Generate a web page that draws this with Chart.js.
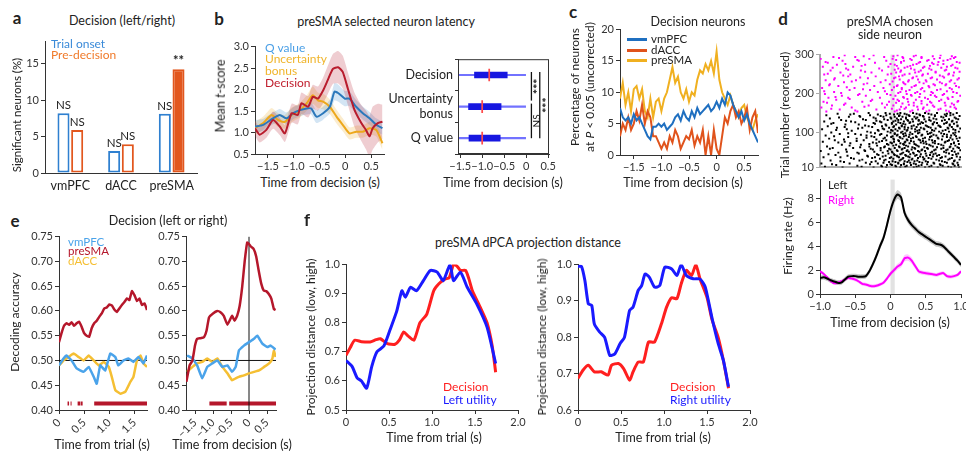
<!DOCTYPE html>
<html>
<head>
<meta charset="utf-8">
<script src="https://cdn.jsdelivr.net/npm/chart.js@4.4.1/dist/chart.umd.min.js"></script>
<style>
html, body { margin: 0; padding: 0; background: #fff; }
#fig { position: relative; width: 966px; height: 456px; overflow: hidden; font-family: Lato, sans-serif; color: #222; }
#fig canvas { position: absolute; }
.t { position: absolute; white-space: nowrap; line-height: 1; }
</style>
</head>
<body>
<div id="fig"></div>
<script>
// ---------- a: decision-selective neurons per region ----------
const regions = ['vmPFC', 'dACC', 'preSMA'];
const trialOnsetPct = [8.2, 3.0, 8.1];
const preDecisionPct = [5.9, 3.95, 14.2];
const trialOnsetSig = ['NS', 'NS', 'NS'];
const preDecisionSig = ['NS', 'NS', '**'];

// ---------- b (left): mean t-score ----------
const bDecT = [-1.75,-1.66,-1.53,-1.40,-1.27,-1.17,-1.04,-0.92,-0.85,-0.72,-0.63,-0.53,-0.43,-0.34,-0.24,-0.14,-0.05,0.05,0.18,0.31,0.40,0.47,0.53,0.63,0.72];
const bDecV = [1.10,0.95,1.06,1.29,1.14,0.98,1.45,1.41,1.68,1.60,1.83,1.79,1.98,2.22,2.48,2.52,2.41,2.02,1.52,1.22,1.06,0.91,1.10,1.22,1.25];
const bDecSem = [0.18,0.18,0.18,0.2,0.2,0.2,0.22,0.22,0.25,0.25,0.28,0.28,0.3,0.33,0.35,0.38,0.38,0.38,0.4,0.42,0.45,0.48,0.5,0.45,0.4];
const bQT = [-1.75,-1.59,-1.40,-1.27,-1.14,-1.01,-0.88,-0.75,-0.66,-0.56,-0.43,-0.30,-0.21,-0.14,-0.01,0.08,0.21,0.34,0.47,0.60,0.72];
const bQV = [1.14,1.18,1.33,1.41,1.33,1.45,1.52,1.56,1.56,1.37,1.45,1.60,1.95,1.92,1.79,1.79,1.60,1.45,1.33,1.18,1.10];
const bQSem = [0.15,0.14,0.14,0.14,0.14,0.14,0.14,0.14,0.14,0.15,0.15,0.16,0.2,0.2,0.18,0.17,0.16,0.15,0.15,0.15,0.15];
const bUT = [-1.75,-1.59,-1.43,-1.30,-1.17,-1.04,-0.88,-0.75,-0.63,-0.53,-0.43,-0.30,-0.17,-0.05,0.08,0.21,0.34,0.47,0.60,0.72];
const bUV = [1.10,1.22,1.41,1.29,1.25,1.41,1.52,1.68,1.87,1.75,1.72,1.60,1.37,1.18,0.98,1.02,1.02,1.10,1.06,0.75];
const bUSem = [0.15,0.15,0.16,0.16,0.16,0.17,0.17,0.18,0.2,0.18,0.18,0.17,0.16,0.15,0.14,0.14,0.14,0.15,0.15,0.15];

// ---------- b (right): latency box plots ----------
const latencyLabels = ['Decision', ['Uncertainty', 'bonus'], 'Q value'];
const latencyQ1 = [-1.175, -1.31, -1.30];
const latencyQ3 = [-0.43, -0.57, -0.59];
const latencyMedian = [-0.84, -1.0, -1.0];
const whiskerLo = [-1.55, -1.55, -1.55];
const whiskerHi = [0, 0, 0];
const latencyBrackets = [
  { from: 0, to: 1, at: 0.12, label: '***' },
  { from: 1, to: 2, at: 0.12, label: 'NS' },
  { from: 0, to: 2, at: 0.31, label: '***' }
];

// ---------- c: % significant decision neurons ----------
const cTime = [-1.75,-1.7,-1.65,-1.6,-1.55,-1.5,-1.45,-1.4,-1.35,-1.3,-1.25,-1.2,-1.15,-1.1,-1.05,-1.0,-0.95,-0.9,-0.85,-0.8,-0.75,-0.7,-0.65,-0.6,-0.55,-0.5,-0.45,-0.4,-0.35,-0.3,-0.25,-0.2,-0.15,-0.1,-0.05,0,0.05,0.1,0.15,0.2,0.25,0.3,0.35,0.4,0.45,0.5,0.55,0.6,0.65,0.7,0.75];
const cPreSMA = [9,11.5,8,10,7,10.5,11,9,10.5,7,6,9,6,8.5,9,7,9,10,12,14,11.5,12.5,10,9,10.5,8.5,10,9.5,12,13.5,13,14.5,13.5,15,13,16.5,12,10,9,8,9.5,8,7,6,7.5,8,6,5,4,5.5,6.5];
const cVmPFC = [7.5,6,5.5,6,5,6.5,5.5,6,5,4,3,2.5,4.5,4.5,5,4.5,5,4,4.5,5,6,6.5,5.5,7,6,5.5,7,6,7.5,6.5,7,7.5,8,7,7.5,8.5,7.5,9,8,10,9.5,8,7,6,7,5.5,6.5,5,4,3,2];
const cDACC = [3,5,4,6,4,5,7,5.5,8,5,7,6,3,3,2,1,2,1,3,2,4,3,1,2,3,2.5,4,1.5,3,2,4,0,3,0,4,1,0,3,6,5,7,8,6,7,5,6,7.5,4,6,7,3.5];

// ---------- d: raster (trial, spike times) and firing rate ----------
const leftRaster = [
  [10,[-0.68,-0.24,-0.06,0.14,0.33,0.49,0.67,0.86,0.97]],
  [12,[-0.93,-0.41,-0.12,0.08,0.21,0.37,0.55,0.82]],
  [14,[-0.47,-0.13,0.07,0.23,0.4,0.58,0.74,0.91]],
  [16,[-0.77,-0.05,0.02,0.15,0.29,0.44,0.71,0.96]],
  [18,[-0.83,-0.29,0.0,0.19,0.36,0.52,0.7,0.89]],
  [20,[-0.98,-0.58,-0.18,0.11,0.19,0.33,0.62,0.88]],
  [22,[-0.35,-0.1,0.11,0.28,0.45,0.61,0.8,0.95]],
  [24,[-0.66,-0.27,-0.02,0.07,0.24,0.41,0.53,0.77]],
  [26,[-0.71,-0.21,0.03,0.2,0.34,0.5,0.73,0.9]],
  [28,[-0.85,-0.44,-0.09,0.13,0.26,0.38,0.69,0.91]],
  [30,[-0.4,-0.07,0.15,0.3,0.47,0.65,0.82,0.98]],
  [32,[-0.52,-0.15,0.04,0.17,0.31,0.48,0.58,0.84]],
  [34,[-0.56,-0.26,-0.01,0.18,0.39,0.54,0.71,0.87]],
  [36,[-0.95,-0.71,-0.22,0.01,0.12,0.27,0.46,0.73,0.99]],
  [38,[-0.32,-0.11,0.1,0.25,0.42,0.6,0.78,0.94]],
  [40,[-0.61,-0.33,-0.07,0.09,0.22,0.35,0.51,0.66]],
  [42,[-0.78,-0.17,0.06,0.21,0.37,0.56,0.69,0.88]],
  [44,[-0.88,-0.19,0.05,0.14,0.28,0.43,0.61,0.93]],
  [46,[-0.45,-0.03,0.16,0.33,0.5,0.64,0.83,0.96]],
  [48,[-0.74,-0.47,-0.11,0.03,0.18,0.32,0.57,0.79]],
  [50,[-0.62,-0.23,0.02,0.26,0.41,0.59,0.76,0.91]],
  [52,[-0.99,-0.36,-0.04,0.1,0.23,0.39,0.49,0.87]],
  [54,[-0.37,-0.14,0.09,0.24,0.44,0.62,0.79,0.99]],
  [56,[-0.63,-0.25,0.0,0.16,0.3,0.45,0.64,0.81]],
  [58,[-0.86,-0.28,-0.02,0.17,0.35,0.53,0.72,0.89]],
  [60,[-0.82,-0.53,-0.14,0.06,0.2,0.34,0.52,0.75,0.97]],
  [62,[-0.43,-0.09,0.13,0.31,0.48,0.66,0.84,0.95]],
  [64,[-0.9,-0.3,-0.08,0.12,0.25,0.4,0.6,0.85]],
  [66,[-0.58,-0.19,0.04,0.22,0.38,0.57,0.75,0.92]],
  [68,[-0.69,-0.42,-0.03,0.08,0.19,0.36,0.55,0.72]],
  [70,[-0.3,-0.05,0.18,0.34,0.51,0.68,0.86,0.97]],
  [72,[-0.57,-0.2,0.02,0.14,0.27,0.47,0.63,0.9]],
  [74,[-0.74,-0.25,0.0,0.2,0.43,0.6,0.77,0.9]],
  [76,[-0.96,-0.65,-0.16,0.05,0.21,0.33,0.5,0.78]],
  [78,[-0.48,-0.12,0.12,0.29,0.46,0.63,0.81,0.96]],
  [80,[-0.79,-0.38,-0.06,0.11,0.24,0.42,0.59,0.83]],
  [82,[-0.66,-0.2,0.05,0.23,0.4,0.55,0.73,0.88]],
  [84,[-0.87,-0.48,-0.1,0.04,0.17,0.29,0.46,0.68,0.94]],
  [86,[-0.34,-0.08,0.14,0.32,0.49,0.67,0.85,0.98]],
  [88,[-0.6,-0.23,0.01,0.13,0.26,0.37,0.56,0.8]],
  [90,[-0.8,-0.27,0.03,0.19,0.36,0.58,0.74,0.93]],
  [92,[-0.92,-0.34,-0.05,0.09,0.22,0.44,0.65,0.86]],
  [94,[-0.42,-0.15,0.1,0.27,0.45,0.61,0.8,0.91]],
  [96,[-0.72,-0.5,-0.13,0.06,0.18,0.31,0.53,0.76]],
  [98,[-0.6,-0.22,0.06,0.21,0.39,0.56,0.72,0.89]],
  [100,[-0.84,-0.28,0.0,0.15,0.28,0.41,0.58,0.92]],
  [102,[-0.33,-0.04,0.17,0.35,0.52,0.69,0.83,0.97]],
  [104,[-0.55,-0.17,0.03,0.1,0.23,0.38,0.62,0.74]],
  [106,[-0.77,-0.18,0.01,0.24,0.41,0.59,0.78,0.92]],
  [108,[-0.97,-0.62,-0.09,0.07,0.2,0.35,0.48,0.89]],
  [110,[-0.46,-0.11,0.13,0.3,0.47,0.64,0.82,0.99]],
  [112,[-0.76,-0.4,-0.02,0.12,0.25,0.43,0.57,0.81]],
  [114,[-0.65,-0.26,0.04,0.2,0.37,0.54,0.71,0.87]],
  [116,[-0.89,-0.31,-0.12,0.05,0.16,0.3,0.52,0.7,0.95]],
  [118,[-0.36,-0.06,0.16,0.33,0.5,0.68,0.84,0.95]],
  [120,[-0.64,-0.45,-0.07,0.08,0.21,0.39,0.6,0.84]],
  [122,[-0.84,-0.22,0.02,0.18,0.42,0.6,0.76,0.9]],
  [124,[-0.81,-0.24,0.02,0.14,0.27,0.46,0.66,0.79]],
  [126,[-0.5,-0.13,0.11,0.28,0.44,0.62,0.8,0.94]],
  [128,[-0.94,-0.56,-0.15,0.04,0.19,0.32,0.5,0.87]],
  [130,[-0.63,-0.2,0.07,0.25,0.4,0.57,0.73,0.88]],
  [132,[-0.7,-0.35,-0.04,0.11,0.24,0.4,0.55,0.77]],
  [134,[-0.39,-0.09,0.15,0.31,0.48,0.65,0.83,0.96]],
  [136,[-0.86,-0.21,0.01,0.09,0.22,0.36,0.61,0.93]],
  [138,[-0.73,-0.24,0.0,0.22,0.38,0.55,0.75,0.91]],
  [140,[-0.59,-0.43,-0.1,0.06,0.17,0.34,0.47,0.72]],
  [142,[-0.44,-0.14,0.12,0.27,0.46,0.63,0.79,0.98]],
  [144,[-0.91,-0.29,-0.06,0.13,0.26,0.42,0.63,0.85]],
  [146,[-0.57,-0.18,0.05,0.23,0.41,0.58,0.77,0.89]],
  [148,[-0.75,-0.52,-0.01,0.1,0.2,0.37,0.54,0.8]],
  [150,[-0.31,-0.07,0.14,0.32,0.49,0.66,0.85,0.94]]
];
const rightRaster = [
  [154,[-0.91,-0.47,0.06,0.28,0.51,0.83]],
  [156,[-0.5,0.09,0.31,0.55,0.79]],
  [159,[-0.72,-0.2,0.13,0.39,0.68]],
  [161,[-0.84,0.02,0.2,0.46,0.71,0.93]],
  [164,[-0.98,-0.55,-0.08,0.22,0.47,0.91]],
  [166,[-0.37,0.15,0.38,0.62,0.85]],
  [169,[-0.83,-0.31,0.04,0.33,0.6,0.78]],
  [171,[-0.66,-0.05,0.26,0.52,0.9]],
  [174,[-0.64,-0.12,0.17,0.44,0.87]],
  [176,[-0.9,0.08,0.33,0.58,0.77]],
  [179,[-0.95,-0.4,-0.02,0.25,0.56,0.95]],
  [181,[-0.28,0.12,0.44,0.69,0.96]],
  [184,[-0.77,-0.26,0.1,0.36,0.72]],
  [186,[-0.58,0.04,0.24,0.53,0.82]],
  [189,[-0.88,-0.6,-0.15,0.19,0.49,0.81]],
  [191,[-0.78,0.18,0.41,0.65,0.88]],
  [194,[-0.69,-0.35,0.07,0.3,0.63,0.99]],
  [196,[-0.46,0.0,0.29,0.57,0.74]],
  [199,[-0.93,-0.44,-0.05,0.23,0.42,0.76]],
  [201,[-0.7,0.11,0.35,0.6,0.94]],
  [204,[-0.8,-0.18,0.14,0.38,0.58,0.89]],
  [206,[-0.94,-0.08,0.22,0.48,0.8]],
  [209,[-0.58,-0.29,0.02,0.27,0.66]],
  [211,[-0.39,0.16,0.43,0.71,0.87]],
  [214,[-0.97,-0.51,-0.1,0.16,0.45,0.84]],
  [216,[-0.62,0.05,0.3,0.55,0.97]],
  [219,[-0.74,-0.23,0.09,0.34,0.54,0.93]],
  [221,[-0.87,0.1,0.36,0.63,0.78]],
  [224,[-0.86,-0.38,-0.01,0.21,0.61,0.79]],
  [226,[-0.33,0.19,0.47,0.73,0.91]],
  [229,[-0.66,-0.14,0.18,0.41,0.7]],
  [231,[-0.55,0.03,0.25,0.51,0.84]],
  [234,[-0.92,-0.49,-0.07,0.26,0.5,0.86]],
  [236,[-0.8,0.13,0.39,0.66,0.95]],
  [239,[-0.79,-0.32,0.05,0.31,0.57,0.97]],
  [241,[-0.43,0.07,0.32,0.59,0.76]],
  [244,[-0.6,-0.21,0.12,0.37,0.74]],
  [246,[-0.67,0.17,0.45,0.7,0.89]],
  [249,[-0.94,-0.57,-0.04,0.2,0.46,0.82]],
  [251,[-0.89,0.01,0.27,0.53,0.83]],
  [254,[-0.71,-0.27,0.08,0.35,0.64,0.9]],
  [256,[-0.36,0.14,0.4,0.64,0.98]],
  [259,[-0.85,-0.42,-0.12,0.15,0.43,0.77]],
  [261,[-0.6,0.06,0.34,0.58,0.79]],
  [264,[-0.63,-0.16,0.11,0.29,0.55,0.95]],
  [266,[-0.82,0.2,0.46,0.72,0.92]],
  [269,[-0.96,-0.53,-0.03,0.24,0.48,0.8]],
  [271,[-0.41,0.09,0.28,0.56,0.86]],
  [274,[-0.76,-0.36,0.06,0.32,0.67,0.88]],
  [276,[-0.64,0.0,0.37,0.61,0.75]],
  [279,[-0.89,-0.22,0.15,0.4,0.59,0.98]],
  [281,[-0.92,0.15,0.42,0.68,0.94]],
  [284,[-0.68,-0.45,-0.06,0.19,0.52,0.75]],
  [286,[-0.47,0.08,0.3,0.54,0.81]],
  [289,[-0.99,-0.3,0.03,0.28,0.62,0.85]],
  [291,[-0.73,0.18,0.44,0.7,0.9]],
  [294,[-0.81,-0.5,-0.09,0.17,0.44,0.92]],
  [296,[-0.38,0.04,0.33,0.6,0.87]],
  [298,[-0.65,-0.24,0.1,0.36,0.71]]
];
const decisionWindow = [0, 0.06];
const dTime = [-1.0,-0.95,-0.9,-0.85,-0.8,-0.75,-0.7,-0.65,-0.6,-0.55,-0.5,-0.45,-0.4,-0.35,-0.3,-0.25,-0.2,-0.15,-0.1,-0.05,0,0.05,0.1,0.15,0.2,0.25,0.3,0.35,0.4,0.45,0.5,0.55,0.6,0.65,0.7,0.75,0.8,0.85,0.9,0.95,1.0];
const dLeftRate = [1.33,1.4,1.3,1.15,1.05,0.95,0.95,1.2,1.45,1.5,1.5,1.45,1.45,1.5,1.9,2.5,3.2,4.0,4.7,5.8,7.0,7.9,8.35,8.1,6.8,6.2,5.8,5.5,5.2,5.0,4.8,4.6,4.4,4.2,4.15,4.0,3.7,3.4,3.1,2.8,2.45];
const dLeftSem = [0.2,0.2,0.2,0.2,0.2,0.2,0.2,0.2,0.2,0.2,0.2,0.2,0.2,0.2,0.22,0.24,0.26,0.28,0.3,0.32,0.35,0.38,0.38,0.36,0.32,0.3,0.28,0.27,0.26,0.25,0.25,0.25,0.24,0.24,0.24,0.23,0.23,0.22,0.22,0.22,0.2];
const dRightRate = [1.9,1.7,1.4,1.1,0.9,0.95,1.05,1.2,1.35,1.3,1.2,1.05,0.85,0.8,0.7,0.65,0.7,0.8,0.95,1.3,1.7,2.0,2.3,2.5,3.0,3.05,2.8,2.35,1.9,1.8,1.75,1.7,1.65,1.6,1.7,1.75,1.5,1.45,1.5,1.6,1.9];
const dRightSem = [0.15,0.15,0.15,0.15,0.15,0.15,0.15,0.15,0.15,0.15,0.15,0.15,0.15,0.15,0.15,0.15,0.15,0.15,0.16,0.18,0.2,0.22,0.24,0.25,0.27,0.27,0.26,0.24,0.2,0.18,0.17,0.17,0.16,0.16,0.16,0.16,0.15,0.15,0.15,0.15,0.15];

// ---------- e: decoding accuracy ----------
const eTrialRedT = [0,0.05,0.1,0.15,0.2,0.25,0.3,0.35,0.4,0.45,0.5,0.55,0.6,0.65,0.7,0.75,0.8,0.85,0.9,0.95,1.0,1.05,1.1,1.15,1.2,1.25,1.3,1.35,1.4,1.45,1.5,1.55,1.6,1.65,1.7,1.75];
const eTrialRed = [0.537,0.555,0.57,0.575,0.572,0.577,0.57,0.575,0.578,0.568,0.555,0.55,0.548,0.565,0.575,0.58,0.588,0.595,0.605,0.607,0.613,0.611,0.603,0.598,0.605,0.612,0.618,0.625,0.622,0.64,0.632,0.62,0.625,0.612,0.615,0.602];
const eTrialBlueT = [0,0.09,0.15,0.25,0.35,0.49,0.59,0.69,0.75,0.82,0.92,1.02,1.12,1.18,1.28,1.38,1.48,1.58,1.68,1.75];
const eTrialBlue = [0.49,0.504,0.51,0.50,0.484,0.477,0.487,0.467,0.453,0.49,0.48,0.514,0.507,0.49,0.50,0.504,0.497,0.507,0.494,0.51];
const eTrialYellowT = [0,0.09,0.19,0.29,0.39,0.49,0.59,0.69,0.79,0.89,0.99,1.05,1.12,1.22,1.32,1.42,1.48,1.55,1.62,1.68,1.75];
const eTrialYellow = [0.49,0.50,0.507,0.514,0.507,0.50,0.51,0.50,0.49,0.497,0.487,0.467,0.44,0.433,0.437,0.457,0.467,0.50,0.51,0.494,0.487];
const eTrialSig = [[0.17,0.2],[0.23,0.25],[0.37,0.42],[0.43,0.47],[0.7,1.75]];
const eDecRedT = [-1.74,-1.65,-1.57,-1.5,-1.44,-1.35,-1.25,-1.18,-1.11,-1.0,-0.88,-0.8,-0.70,-0.60,-0.47,-0.4,-0.33,-0.26,-0.19,-0.12,-0.05,0.0,0.05,0.13,0.2,0.27,0.34,0.41,0.48,0.55,0.62,0.69,0.74];
const eDecRed = [0.457,0.49,0.50,0.53,0.544,0.545,0.547,0.56,0.587,0.595,0.60,0.598,0.59,0.572,0.59,0.58,0.59,0.61,0.648,0.70,0.738,0.735,0.73,0.725,0.71,0.681,0.655,0.641,0.64,0.634,0.625,0.604,0.602];
const eDecBlueT = [-1.72,-1.57,-1.44,-1.30,-1.16,-1.02,-0.88,-0.74,-0.60,-0.47,-0.37,-0.28,-0.14,0.0,0.14,0.23,0.37,0.51,0.6,0.74];
const eDecBlue = [0.51,0.504,0.49,0.464,0.487,0.494,0.50,0.487,0.49,0.477,0.487,0.52,0.53,0.537,0.544,0.55,0.534,0.527,0.53,0.522];
const eDecYellowT = [-1.72,-1.57,-1.44,-1.30,-1.16,-1.02,-0.88,-0.74,-0.60,-0.47,-0.37,-0.28,-0.14,0.0,0.14,0.28,0.42,0.56,0.65,0.69,0.74];
const eDecYellow = [0.477,0.487,0.494,0.497,0.504,0.497,0.504,0.487,0.474,0.46,0.464,0.467,0.47,0.474,0.477,0.48,0.487,0.494,0.504,0.52,0.507];
const eDecSig = [[-1.1,-0.62],[-0.55,0.75]];
const chanceLevel = 0.5;
const sigLevel = 0.413;

// ---------- f: dPCA projection distance ----------
const fLDecT = [0,0.05,0.1,0.18,0.28,0.35,0.40,0.48,0.57,0.62,0.67,0.72,0.79,0.86,0.94,1.02,1.08,1.15,1.2,1.25,1.29,1.33,1.39,1.43,1.47,1.56,1.64,1.7,1.74];
const fLDec = [0.688,0.715,0.74,0.735,0.734,0.742,0.745,0.728,0.726,0.74,0.768,0.755,0.74,0.80,0.83,0.91,0.934,0.95,0.955,1.0,0.995,0.98,0.98,0.95,0.91,0.854,0.80,0.72,0.63];
const fLUtilT = [0,0.07,0.13,0.18,0.24,0.30,0.36,0.44,0.51,0.59,0.65,0.69,0.75,0.82,0.90,0.98,1.06,1.13,1.21,1.25,1.33,1.41,1.52,1.64,1.74];
const fLUtil = [0.67,0.65,0.61,0.60,0.575,0.65,0.70,0.72,0.774,0.84,0.91,0.888,0.922,0.91,0.945,0.98,0.974,0.945,1.0,0.945,0.974,0.922,0.865,0.785,0.66];
const fRDecT = [0,0.06,0.12,0.19,0.27,0.35,0.39,0.47,0.53,0.60,0.64,0.70,0.76,0.82,0.89,0.97,1.03,1.09,1.15,1.20,1.26,1.32,1.37,1.42,1.50,1.56,1.63,1.69,1.75];
const fRDec = [0.687,0.71,0.723,0.705,0.705,0.696,0.723,0.728,0.714,0.682,0.705,0.732,0.732,0.787,0.787,0.837,0.883,0.909,0.906,0.947,0.984,0.97,1.0,0.96,0.91,0.847,0.80,0.737,0.66];
const fRUtilT = [0,0.04,0.08,0.12,0.16,0.19,0.25,0.31,0.37,0.43,0.49,0.54,0.60,0.64,0.70,0.74,0.78,0.83,0.89,0.95,1.01,1.09,1.15,1.20,1.26,1.34,1.42,1.48,1.56,1.63,1.69,1.75];
const fRUtil = [0.995,0.995,0.956,0.892,0.888,0.837,0.815,0.80,0.75,0.755,0.783,0.80,0.874,0.883,0.929,0.942,0.974,0.965,0.938,0.942,0.993,0.988,0.97,1.0,0.97,0.961,0.96,0.938,0.851,0.783,0.737,0.664];

// tick values
const decTicks = [-1.5, -1, -0.5, 0, 0.5];
const trialTicks = [0, 0.5, 1, 1.5];
const projTicksX = [0, 0.5, 1, 1.5, 2];
const accTicks = [0.40, 0.45, 0.50, 0.55, 0.60, 0.65, 0.70, 0.75];

// ---------- helpers ----------
Chart.defaults.font.family = 'Lato';
Chart.defaults.font.size = 11;
Chart.defaults.color = '#333';

const fig = document.getElementById('fig');
const PT = 8, PR = 14;

function canvasAt(L, T, R, B, wy, hx) {
  const c = document.createElement('canvas');
  const w = R - L + wy + PR, h = B - T + hx + PT;
  c.width = w; c.height = h;
  c.style.left = (L - wy) + 'px';
  c.style.top = (T - PT) + 'px';
  c.style.width = w + 'px';
  c.style.height = h + 'px';
  fig.appendChild(c);
  return c;
}

function txt(s, x, y, o = {}) {
  const d = document.createElement('div');
  d.className = 't';
  d.innerHTML = s;
  d.style.left = x + 'px';
  d.style.top = y + 'px';
  d.style.fontSize = (o.size || 12) + 'px';
  if (o.color) d.style.color = o.color;
  if (o.bold) d.style.fontWeight = '700';
  if (o.lh) { d.style.lineHeight = o.lh + 'px'; d.style.textAlign = 'center'; }
  const ax = o.left ? '0' : '-50%';
  d.style.transform = `translate(${ax},-50%)` + (o.rot ? ' rotate(-90deg)' : '');
  fig.appendChild(d);
}

const fmt1 = v => v === 0 ? '0' : (v < 0 ? '−' : '') + Math.abs(v).toFixed(1);
const fmt2 = v => v.toFixed(2);
const fmt0 = v => String(v);

function axis(kind, min, max, ticks, size, fmt, rot, lineColor = '#333', lineWidth = 1) {
  return {
    type: 'linear', min, max,
    afterBuildTicks: s => { s.ticks = ticks.map(v => ({ value: v })); },
    ticks: { callback: fmt, autoSkip: false, minRotation: rot || 0, maxRotation: rot || 0, padding: 2, color: '#333', display: ticks.length > 0 },
    grid: { drawOnChartArea: false, tickLength: 4, color: lineColor, display: ticks.length > 0 },
    border: { color: lineColor, width: lineWidth },
    afterFit: kind === 'x' ? s => { s.height = size; } : s => { s.width = size; }
  };
}

function opts(scales, extra = {}) {
  return Object.assign({
    responsive: false, animation: false, devicePixelRatio: 1,
    layout: { padding: { top: PT, right: PR, left: 0, bottom: 0 } },
    plugins: { legend: { display: false }, tooltip: { enabled: false }, filler: { drawTime: 'beforeDatasetsDraw' } },
    elements: { point: { radius: 0 } },
    scales
  }, extra);
}

const xy = (ts, vs) => ts.map((t, i) => ({ x: t, y: vs[i] }));
const line = (ts, vs, color, w, tension = 0.2) => ({ data: xy(ts, vs), borderColor: color, borderWidth: w, fill: false, pointRadius: 0, tension });
const band = (ts, vs, sem, color) => [
  { data: xy(ts, vs.map((v, i) => v + sem[i])), borderWidth: 0, pointRadius: 0, fill: '+1', backgroundColor: color, tension: 0.2 },
  { data: xy(ts, vs.map((v, i) => v - sem[i])), borderWidth: 0, pointRadius: 0, fill: false, tension: 0.2 }
];
const segments = (segs, level) => segs.flatMap(([a, b]) => [{ x: a, y: level }, { x: b, y: level }, { x: b, y: null }]);
const spikes = rows => rows.flatMap(([trial, times]) => times.map(t => ({ x: t, y: trial })));

// ---------- plugins ----------
const sigLabels = {
  id: 'sigLabels',
  afterDatasetsDraw(c) {
    const ctx = c.ctx;
    ctx.save();
    ctx.fillStyle = '#222';
    ctx.textAlign = 'center';
    ctx.textBaseline = 'bottom';
    c.data.datasets.forEach((ds, i) => {
      c.getDatasetMeta(i).data.forEach((bar, j) => {
        ctx.font = ds.sig[j] === '**' ? 'bold 13px Lato' : '11.5px Lato';
        ctx.fillText(ds.sig[j], bar.x, bar.y - 2);
      });
    });
    ctx.restore();
  }
};

const frame = {
  id: 'frame',
  afterDraw(c) {
    const { ctx, chartArea: a } = c;
    ctx.save();
    ctx.strokeStyle = '#333';
    ctx.lineWidth = 1;
    ctx.strokeRect(a.left + 0.5, a.top + 0.5, a.right - a.left - 1, a.bottom - a.top - 1);
    ctx.restore();
  }
};

const brackets = {
  id: 'brackets',
  afterDatasetsDraw(c) {
    const { ctx, scales: { x, y } } = c;
    ctx.save();
    ctx.strokeStyle = '#111';
    ctx.fillStyle = '#111';
    ctx.lineWidth = 1.3;
    latencyBrackets.forEach(b => {
      const px = x.getPixelForValue(b.at);
      const gap = latencyBrackets.some(o => o !== b && o.at === b.at && o.from === b.to) ? 6 : 0;
      const top = y.getPixelForValue(b.from) - 3;
      const bottom = y.getPixelForValue(b.to) - gap;
      ctx.beginPath();
      ctx.moveTo(px, top);
      ctx.lineTo(px, bottom);
      ctx.stroke();
      ctx.save();
      ctx.translate(px + 5, (top + bottom) / 2);
      ctx.rotate(-Math.PI / 2);
      ctx.textAlign = 'center';
      ctx.textBaseline = 'middle';
      ctx.font = b.label === 'NS' ? '10px Lato' : 'bold 12px Lato';
      ctx.fillText(b.label, 0, b.label === 'NS' ? 0 : 2);
      ctx.restore();
    });
    ctx.restore();
  }
};

const decisionBand = {
  id: 'decisionBand',
  beforeDatasetsDraw(c) {
    const { ctx, chartArea: a, scales: { x } } = c;
    const x0 = x.getPixelForValue(decisionWindow[0]);
    const x1 = x.getPixelForValue(decisionWindow[1]);
    ctx.save();
    ctx.fillStyle = 'rgba(190,190,190,0.45)';
    ctx.fillRect(x0, a.top, x1 - x0, a.bottom - a.top);
    ctx.restore();
  }
};

// ---------- colours ----------
const blueA = '#2f80d0', orangeA = '#e2571e';
const redB = '#b81c2d', blueB = '#2b78bb', yellowB = '#eda81c';
const blueC = '#1f6fc0', orangeC = '#e0531c', yellowC = '#f0b020';
const redE = '#b5172b', blueE = '#4aa3ea', yellowE = '#f5bf33';
const redF = '#ff1f1f', blueF = '#1a1aff';

// ---------- a ----------
new Chart(canvasAt(45, 41, 197, 173, 30, 28), {
  type: 'bar',
  data: {
    labels: regions,
    datasets: [
      { data: trialOnsetPct, backgroundColor: '#fff', borderColor: blueA, borderWidth: 2, borderSkipped: false, sig: trialOnsetSig },
      { data: preDecisionPct, backgroundColor: ['#fff', '#fff', orangeA], borderColor: orangeA, borderWidth: 2, borderSkipped: false, sig: preDecisionSig }
    ]
  },
  options: opts({
    x: { type: 'category', grid: { display: false, drawTicks: false }, border: { color: '#333' }, ticks: { font: { size: 12.5 }, color: '#222', padding: 5 }, afterFit: s => { s.height = 28; } },
    y: axis('y', 0, 18, [0, 5, 10, 15], 30, fmt0)
  }, { datasets: { bar: { categoryPercentage: 0.54, barPercentage: 0.88 } } }),
  plugins: [sigLabels]
});

// ---------- b left ----------
new Chart(canvasAt(255, 46, 384, 154, 32, 20), {
  type: 'line',
  data: {
    datasets: [
      line(bDecT, bDecV, redB, 2),
      line(bQT, bQV, blueB, 2),
      line(bUT, bUV, yellowB, 2),
      ...band(bDecT, bDecV, bDecSem, 'rgba(184,28,45,0.22)'),
      ...band(bQT, bQV, bQSem, 'rgba(80,150,210,0.25)'),
      ...band(bUT, bUV, bUSem, 'rgba(240,180,60,0.25)')
    ]
  },
  options: opts({
    x: axis('x', -1.75, 0.75, decTicks, 20, fmt1),
    y: axis('y', 0.5, 3.0, [0.5, 1, 1.5, 2, 2.5, 3], 32, v => v.toFixed(1))
  })
});

// ---------- b right ----------
new Chart(canvasAt(458, 58, 549, 154, 72, 20), {
  type: 'bar',
  data: {
    labels: latencyLabels,
    datasets: [
      { data: latencyMedian.map(m => [m - 0.012, m + 0.012]), backgroundColor: '#ff4a4a', barThickness: 12, grouped: false },
      { data: latencyQ1.map((q, i) => [q, latencyQ3[i]]), backgroundColor: '#1717e0', barThickness: 6, grouped: false },
      { data: whiskerLo.map((w, i) => [w, whiskerHi[i]]), backgroundColor: '#7272ff', barThickness: 1.5, grouped: false }
    ]
  },
  options: opts({
    x: axis('x', -1.55, 0.52, decTicks, 20, fmt1),
    y: {
      type: 'category',
      ticks: { font: { size: 12.5, lineHeight: 1.15 }, color: '#222', padding: 2, autoSkip: false },
      grid: { drawOnChartArea: false, tickLength: 3, color: '#333' },
      border: { color: '#333' },
      afterFit: s => { s.width = 72; }
    }
  }, { indexAxis: 'y' }),
  plugins: [frame, brackets]
});

// ---------- c ----------
new Chart(canvasAt(620, 29, 758, 155, 22, 20), {
  type: 'line',
  data: {
    datasets: [
      line(cTime, cVmPFC, blueC, 2, 0),
      line(cTime, cDACC, orangeC, 2, 0),
      line(cTime, cPreSMA, yellowC, 2, 0)
    ]
  },
  options: opts({
    x: axis('x', -1.75, 0.75, decTicks, 20, fmt1),
    y: axis('y', 0, 20, [0, 5, 10, 15, 20], 22, fmt0)
  })
});

// ---------- d raster ----------
new Chart(canvasAt(820, 54, 961, 174, 30, 2), {
  type: 'scatter',
  data: {
    datasets: [
      { data: spikes(leftRaster), backgroundColor: '#000', pointStyle: 'rect', pointRadius: 1.4, borderWidth: 0 },
      { data: spikes(rightRaster), backgroundColor: '#ff00ff', pointStyle: 'rect', pointRadius: 1.4, borderWidth: 0 }
    ]
  },
  options: opts({
    x: axis('x', -1, 1, [], 2, fmt1, 0, '#aaa', 2),
    y: axis('y', 10, 300, [10, 100, 200, 300], 30, fmt0, 0, '#aaa', 2)
  }),
  plugins: [decisionBand]
});

// ---------- d firing rate ----------
new Chart(canvasAt(820, 179, 961, 294, 20, 20), {
  type: 'line',
  data: {
    datasets: [
      line(dTime, dLeftRate, '#000', 2),
      line(dTime, dRightRate, '#ff00ff', 2),
      ...band(dTime, dLeftRate, dLeftSem, 'rgba(0,0,0,0.22)'),
      ...band(dTime, dRightRate, dRightSem, 'rgba(255,0,255,0.22)')
    ]
  },
  options: opts({
    x: axis('x', -1, 1, [-1, -0.5, 0, 0.5, 1], 20, fmt1),
    y: axis('y', 0, 9.6, [0, 2, 4, 6, 8], 20, fmt0)
  }),
  plugins: [decisionBand]
});

// ---------- e ----------
const refLine = (pts) => ({ data: pts, borderColor: '#111', borderWidth: 1, pointRadius: 0, fill: false });
const sigLine = (segs) => ({ data: segments(segs, sigLevel), borderColor: redE, borderWidth: 4, pointRadius: 0, fill: false, spanGaps: false, borderCapStyle: 'butt' });

new Chart(canvasAt(59, 236, 147, 410, 32, 30), {
  type: 'line',
  data: {
    datasets: [
      line(eTrialRedT, eTrialRed, redE, 2.5, 0.1),
      line(eTrialBlueT, eTrialBlue, blueE, 2.5, 0.1),
      line(eTrialYellowT, eTrialYellow, yellowE, 2.5, 0.1),
      refLine([{ x: 0, y: chanceLevel }, { x: 1.75, y: chanceLevel }]),
      sigLine(eTrialSig)
    ]
  },
  options: opts({
    x: axis('x', 0, 1.75, trialTicks, 30, fmt1, 45),
    y: axis('y', 0.40, 0.75, accTicks, 32, fmt2)
  })
});

new Chart(canvasAt(186, 236, 276, 410, 32, 30), {
  type: 'line',
  data: {
    datasets: [
      line(eDecRedT, eDecRed, redE, 2.5, 0.1),
      line(eDecBlueT, eDecBlue, blueE, 2.5, 0.1),
      line(eDecYellowT, eDecYellow, yellowE, 2.5, 0.1),
      refLine([{ x: -1.75, y: chanceLevel }, { x: 0.75, y: chanceLevel }]),
      refLine([{ x: 0, y: 0.40 }, { x: 0, y: 0.75 }]),
      sigLine(eDecSig)
    ]
  },
  options: opts({
    x: axis('x', -1.75, 0.75, decTicks, 30, fmt1, 45),
    y: axis('y', 0.40, 0.75, accTicks, 32, fmt2)
  })
});

// ---------- f ----------
new Chart(canvasAt(346, 264, 518, 410, 26, 20), {
  type: 'line',
  data: { datasets: [line(fLUtilT, fLUtil, blueF, 3), line(fLDecT, fLDec, redF, 3)] },
  options: opts({
    x: axis('x', 0, 2, projTicksX, 20, fmt1),
    y: axis('y', 0.5, 1.0, [0.5, 0.6, 0.7, 0.8, 0.9, 1.0], 26, v => v.toFixed(1))
  })
});

new Chart(canvasAt(578, 264, 750, 410, 26, 20), {
  type: 'line',
  data: { datasets: [line(fRUtilT, fRUtil, blueF, 3), line(fRDecT, fRDec, redF, 3)] },
  options: opts({
    x: axis('x', 0, 2, projTicksX, 20, fmt1),
    y: axis('y', 0.6, 1.0, [0.6, 0.7, 0.8, 0.9, 1.0], 26, v => v.toFixed(1))
  })
});

// ---------- texts ----------
const L = 17, TT = 12.5, AX = 12.5;
txt('a', 17, 17, { size: L, bold: true });
txt('b', 219, 18, { size: L, bold: true });
txt('c', 573, 11, { size: L, bold: true });
txt('d', 783, 18, { size: L, bold: true });
txt('e', 15, 220, { size: L, bold: true });
txt('f', 307, 219, { size: L, bold: true });

txt('Decision (left/right)', 122, 21, { size: TT });
txt('preSMA selected neuron latency', 386, 22, { size: TT });
txt('Decision neurons', 698, 22, { size: TT });
txt('preSMA chosen', 890, 22, { size: TT });
txt('side neuron', 890, 35, { size: TT });
txt('Decision (left or right)', 168, 221, { size: TT });
txt('preSMA dPCA projection distance', 528, 243, { size: TT });

// legends
txt('Trial onset', 51, 44, { size: 12, color: '#3a8ad8', left: true });
txt('Pre-decision', 51, 55, { size: 12, color: '#f07a2a', left: true });
txt('Q value', 265, 48, { size: 12, color: '#4a9fe6', left: true });
txt('Uncertainty', 265, 59, { size: 12, color: '#f0b52c', left: true });
txt('bonus', 265, 71, { size: 12, color: '#f0b52c', left: true });
txt('Decision', 265, 83, { size: 12, color: '#c0202f', left: true });
[['vmPFC', blueC, 39], ['dACC', orangeC, 50], ['preSMA', yellowC, 60]].forEach(([name, col, y]) => {
  const s = document.createElement('div');
  s.style.cssText = `position:absolute;left:627px;top:${y - 1}px;width:20px;height:2.5px;background:${col}`;
  fig.appendChild(s);
  txt(name, 651, y, { size: 11.5, left: true });
});
txt('Left', 828, 185, { size: 11.5, left: true });
txt('Right', 828, 200, { size: 11.5, color: '#ff00ff', left: true });
txt('vmPFC', 68, 242, { size: 11.5, color: blueE, left: true });
txt('preSMA', 68, 251, { size: 11.5, color: redE, left: true });
txt('dACC', 68, 261, { size: 11.5, color: yellowE, left: true });
txt('Decision', 443, 387, { size: 12, color: redF, left: true });
txt('Left utility', 443, 400, { size: 12, color: blueF, left: true });
txt('Decision', 670, 387, { size: 12, color: redF, left: true });
txt('Right utility', 670, 400, { size: 12, color: blueF, left: true });

// axis titles
txt('Significant neurons (%)', 17, 115, { size: 11.5, rot: true });
txt('Mean <i>t</i>-score', 221, 96, { size: AX, rot: true });
txt('Time from decision (s)', 320, 183, { size: AX });
txt('Time from decision (s)', 503, 183, { size: AX });
txt('Percentage of neurons<br>at <i>P</i> &lt; 0.05 (uncorrected)', 582, 87, { size: 12, rot: true, lh: 15 });
txt('Time from decision (s)', 683, 183, { size: AX });
txt('Trial number (reordered)', 785, 115, { size: 12, rot: true });
txt('Firing rate (Hz)', 788, 236, { size: 12, rot: true });
txt('Time from decision (s)', 890, 323, { size: AX });
txt('Decoding accuracy', 15, 322, { size: 12, rot: true });
txt('Time from trial (s)', 102, 445, { size: AX });
txt('Time from decision (s)', 232, 445, { size: AX });
txt('Projection distance (low, high)', 311, 337, { size: 12, rot: true });
txt('Time from trial (s)', 434, 438, { size: AX });
txt('Projection distance (low, high)', 542, 337, { size: 12, rot: true });
txt('Time from trial (s)', 663, 438, { size: AX });
</script>
</body>
</html>
